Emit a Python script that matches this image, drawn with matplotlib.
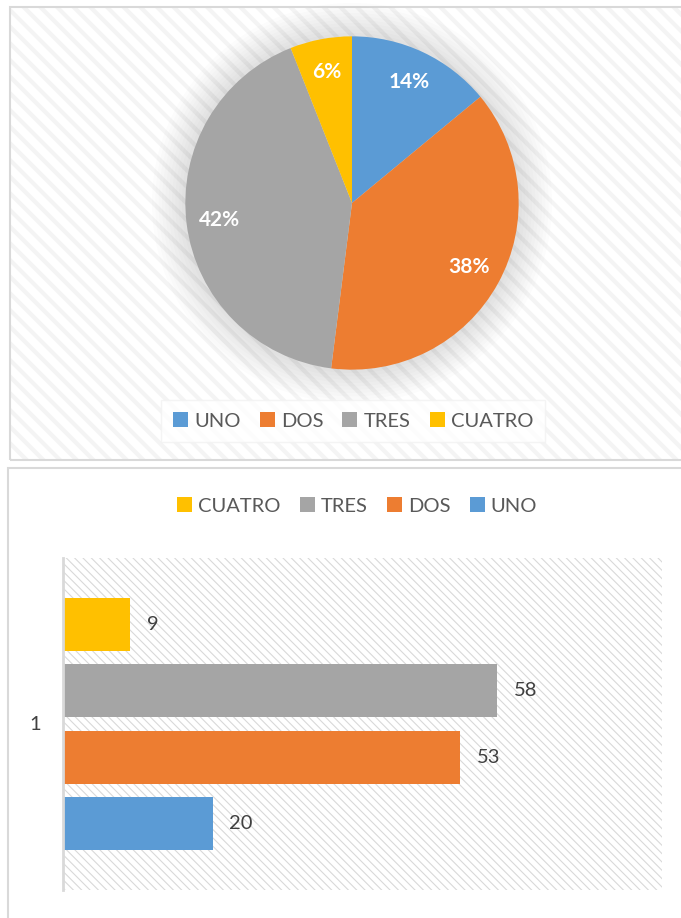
import matplotlib
matplotlib.use("Agg")
import matplotlib.pyplot as plt
from matplotlib.patches import Rectangle, Circle, Patch

plt.rcParams['font.family'] = ['Lato', 'DejaVu Sans']

categories = ["UNO", "DOS", "TRES", "CUATRO"]
colors = ["#5b9bd5", "#ed7d31", "#a5a5a5", "#ffc000"]
pie_pct = [14, 38, 42, 6]
bar_values = [20, 53, 58, 9]
bar_category = "1"

W, H = 681, 918
fig = plt.figure(figsize=(W / 100, H / 100), dpi=100)


def box(x0, y0, x1, y1):
    # pixel box (top-left origin) -> figure fraction rect
    return [x0 / W, 1 - y1 / H, (x1 - x0) / W, (y1 - y0) / H]


def panel(x0, y0, x1, y1, hatch, hcolor, hlw):
    l, b, w, h = box(x0, y0, x1, y1)
    bg = Rectangle((l, b), w, h, transform=fig.transFigure, facecolor="white",
                   edgecolor="none", hatch=hatch, zorder=-2)
    bg._hatch_color = matplotlib.colors.to_rgba(hcolor)
    if hasattr(bg, "set_hatch_linewidth"):
        bg.set_hatch_linewidth(hlw)
    fig.patches.append(bg)
    fig.patches.append(Rectangle((l, b), w, h, transform=fig.transFigure,
                                 facecolor="none", edgecolor="#d9d9d9", lw=1.5, zorder=-1))


# top panel: pie chart
panel(10, 7, 690, 460, "\\\\", "#f4f4f4", 3.0)
ax1 = fig.add_axes(box(152, 3, 552, 403))
ax1.set_zorder(2)
ax1.axis("off")
for k in range(10):
    ax1.add_patch(Circle((0, 0), 1.0 + 0.02 * (k + 1), facecolor="#808080",
                         edgecolor="none", alpha=0.025, zorder=0))
wedges, _, autotexts = ax1.pie(pie_pct, colors=colors, startangle=90, counterclock=False,
                               autopct=lambda p: f"{p:.0f}%", pctdistance=0.8, radius=1.0,
                               wedgeprops=dict(linewidth=0, zorder=2))
ax1.set_xlim(-1.2, 1.2)
ax1.set_ylim(-1.2, 1.2)
ax1.set_aspect("equal")
for t in autotexts:
    t.set_color("white")
    t.set_fontsize(15)
    t.set_fontweight("bold")

leg1 = fig.legend(wedges, categories, loc="center", bbox_to_anchor=(353 / W, 1 - 421 / H),
                  ncol=4, frameon=True, fontsize=14.5, handlelength=0.75, handleheight=0.75,
                  handletextpad=0.3, columnspacing=0.95, borderpad=0.6, fancybox=False)
leg1.get_frame().set_facecolor("white")
leg1.get_frame().set_edgecolor("#f2f2f2")
for t in leg1.get_texts():
    t.set_color("#595959")

# bottom panel: horizontal bars
panel(8, 468, 690, 925, None, "#ffffff", 1.0)
ax2 = fig.add_axes(box(63, 558, 662, 890))
ax2.set_zorder(2)
ax2.set_facecolor("white")
hatch_bg = Rectangle((0, 0), 1, 1, transform=ax2.transAxes, facecolor="white",
                     edgecolor="none", hatch="\\\\\\\\", zorder=0)
hatch_bg._hatch_color = matplotlib.colors.to_rgba("#d9d9d9")
if hasattr(hatch_bg, "set_hatch_linewidth"):
    hatch_bg.set_hatch_linewidth(0.8)
ax2.add_patch(hatch_bg)

ypos = list(range(len(categories)))
bars = ax2.barh(ypos, bar_values, height=0.8, color=colors, zorder=2)
ax2.bar_label(bars, padding=12, fontsize=14.5, color="#404040")
ax2.set_xlim(0, 80)
ax2.set_ylim(-1.0, 4.0)
ax2.set_xticks([])
ax2.set_yticks([])
for s in ["top", "right", "bottom"]:
    ax2.spines[s].set_visible(False)
ax2.spines["left"].set_color("#d9d9d9")
ax2.spines["left"].set_linewidth(2)

fig.text(35 / W, 1 - 725 / H, bar_category, fontsize=14.5, color="#404040",
         ha="center", va="center")

order = [3, 2, 1, 0]
handles2 = [Patch(facecolor=colors[i]) for i in order]
leg2 = fig.legend(handles2, [categories[i] for i in order], loc="center",
                  bbox_to_anchor=(357 / W, 1 - 506 / H), ncol=4, frameon=False, fontsize=14.5,
                  handlelength=0.75, handleheight=0.75, handletextpad=0.3, columnspacing=0.95)
for t in leg2.get_texts():
    t.set_color("#595959")

fig.savefig("out.png", dpi=100)
